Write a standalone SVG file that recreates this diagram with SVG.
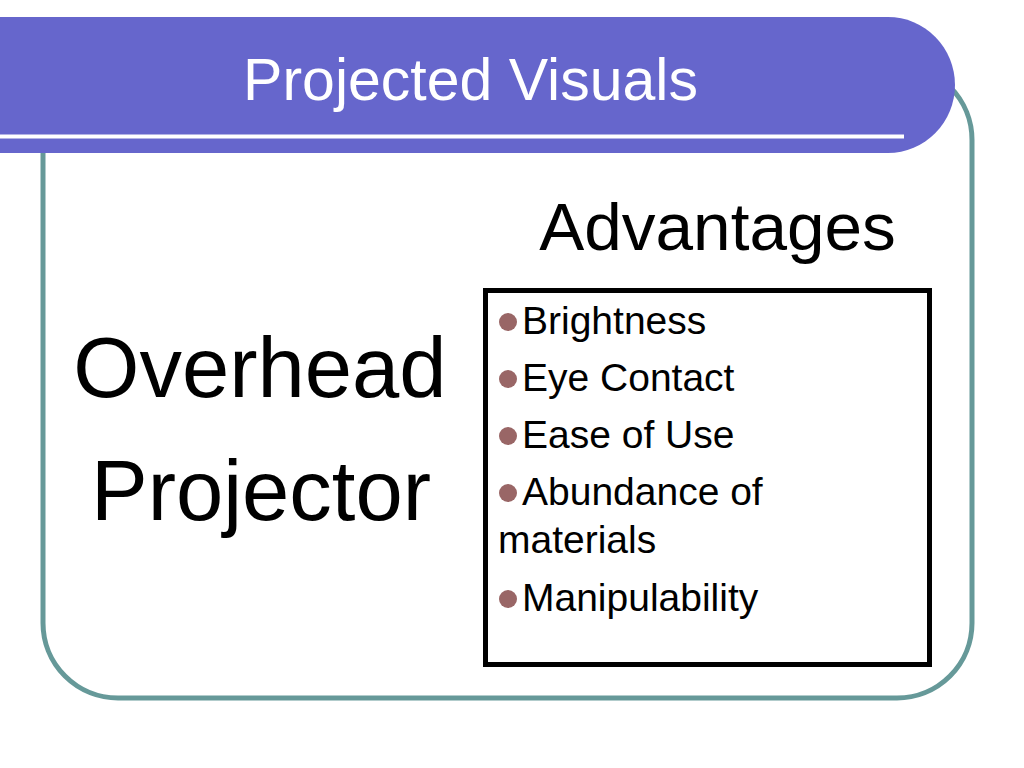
<svg xmlns="http://www.w3.org/2000/svg" width="1024" height="768" viewBox="0 0 1024 768">
<style>
  text { font-family: "Liberation Sans", Arial, sans-serif; fill: #000; }
  .title { fill: #fff; font-size: 59px; }
  .big { font-size: 85px; }
  .adv { font-size: 67.5px; }
  .item { font-size: 39px; }
  .dot { fill: #996666; }
</style>
<rect width="1024" height="768" fill="#fff"/>
<g id="frame">
  <rect x="43" y="65" width="929" height="633" rx="75" ry="75" fill="none" stroke="#669999" stroke-width="5"/>
</g>
<g id="banner">
  <path d="M0 17 H888 A67 68 0 0 1 888 153 H0 Z" fill="#6666cc"/>
  <rect x="0" y="134.5" width="904" height="4" fill="#fff"/>
  <text class="title" x="470.5" y="100" text-anchor="middle">Projected Visuals</text>
</g>
<g id="subject">
  <text class="big" x="260" y="397" text-anchor="middle">Overhead</text>
  <text class="big" x="261" y="520" text-anchor="middle">Projector</text>
</g>
<g id="advantages-heading">
  <text class="adv" x="717.5" y="250" text-anchor="middle">Advantages</text>
</g>
<g id="advantages-box">
  <rect x="485.5" y="290.5" width="444" height="374" fill="none" stroke="#000" stroke-width="5"/>
  <circle class="dot" cx="508" cy="322" r="9"/>
  <text class="item" x="522" y="334">Brightness</text>
  <circle class="dot" cx="508" cy="379" r="9"/>
  <text class="item" x="522" y="391">Eye Contact</text>
  <circle class="dot" cx="508" cy="436" r="9"/>
  <text class="item" x="522" y="448">Ease of Use</text>
  <circle class="dot" cx="508" cy="493" r="9"/>
  <text class="item" x="522" y="505">Abundance of</text>
  <text class="item" x="498" y="553">materials</text>
  <circle class="dot" cx="508" cy="599" r="9"/>
  <text class="item" x="522" y="611">Manipulability</text>
</g>
</svg>
